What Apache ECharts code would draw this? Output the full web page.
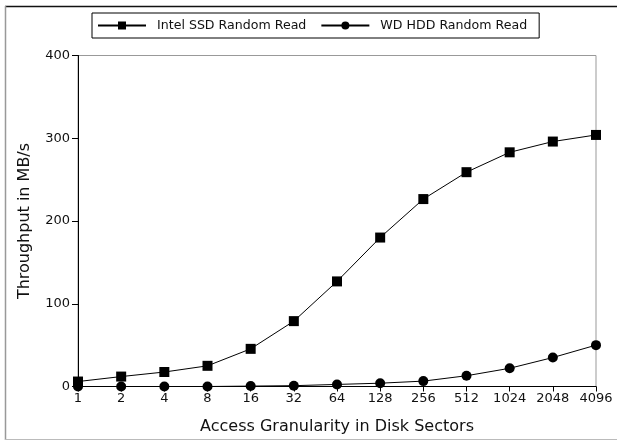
<!DOCTYPE html>
<html><head><meta charset="utf-8">
<script src="https://cdn.jsdelivr.net/npm/echarts@6/dist/echarts.min.js"></script>
<style>html,body{margin:0;padding:0;background:#fff}#c{width:617px;height:441px}</style>
</head><body><div id="c"></div>
<script>
const categories = ['1','2','4','8','16','32','64','128','256','512','1024','2048','4096'];
const ssdValues = [6, 12, 17.5, 25, 45.5, 79, 127, 180, 226.5, 259, 283, 296, 304];
const hddValues = [0, 0, 0, 0, 0.5, 1, 2.5, 4, 6.5, 13, 22, 35, 50];
const yTicks = [0, 100, 200, 300, 400];

const chart = echarts.init(document.getElementById('c'));
const font = 'DejaVu Sans';
chart.setOption({
  animation: false,
  backgroundColor: '#fff',
  textStyle: {fontFamily: font},
  graphic: [
    {type: 'line', shape: {x1: 5, y1: 6.5, x2: 617, y2: 6.5}, style: {stroke: '#111', lineWidth: 1.5}},
    {type: 'line', shape: {x1: 5.5, y1: 6, x2: 5.5, y2: 440}, style: {stroke: '#999', lineWidth: 1.5}},
    {type: 'line', shape: {x1: 5, y1: 439.5, x2: 617, y2: 439.5}, style: {stroke: '#bbb', lineWidth: 1}}
  ],
  legend: {
    top: 13, left: 92,
    itemWidth: 48, itemHeight: 10, itemGap: 14,
    padding: [6, 12, 6, 5],
    borderColor: '#000', borderWidth: 1,
    textStyle: {fontFamily: font, fontSize: 12.6, color: '#111', padding: [0, 0, 0, 6]},
    data: ['Intel SSD Random Read', 'WD HDD Random Read']
  },
  grid: {left: 78, right: 21, top: 55.5, bottom: 54.5, show: true, borderColor: '#999', borderWidth: 1, containLabel: false},
  xAxis: {
    type: 'category', data: categories, boundaryGap: false,
    name: 'Access Granularity in Disk Sectors', nameLocation: 'middle', nameGap: 32,
    nameTextStyle: {fontFamily: font, fontSize: 16, color: '#111'},
    axisLine: {lineStyle: {color: '#000', width: 1}},
    axisTick: {show: true, length: 5, lineStyle: {color: '#000'}, alignWithLabel: true},
    axisLabel: {fontFamily: font, fontSize: 13, color: '#111', margin: 6, interval: 0},
    splitLine: {show: false}
  },
  yAxis: {
    type: 'value', min: yTicks[0], max: yTicks[yTicks.length - 1], interval: 100,
    name: 'Throughput in MB/s', nameLocation: 'middle', nameGap: 45,
    nameTextStyle: {fontFamily: font, fontSize: 16, color: '#111'},
    axisLine: {show: true, lineStyle: {color: '#000', width: 1}},
    axisTick: {show: true, length: 6, lineStyle: {color: '#000'}},
    axisLabel: {fontFamily: font, fontSize: 13, color: '#111', margin: 8},
    splitLine: {show: false}
  },
  series: [
    {name: 'Intel SSD Random Read', type: 'line', data: ssdValues,
     symbol: 'rect', symbolSize: 10, showAllSymbol: true,
     itemStyle: {color: '#000'}, lineStyle: {color: '#000', width: 1}, z: 3},
    {name: 'WD HDD Random Read', type: 'line', data: hddValues,
     symbol: 'circle', symbolSize: 10, showAllSymbol: true,
     itemStyle: {color: '#000'}, lineStyle: {color: '#000', width: 1}, z: 3}
  ]
});
</script></body></html>
